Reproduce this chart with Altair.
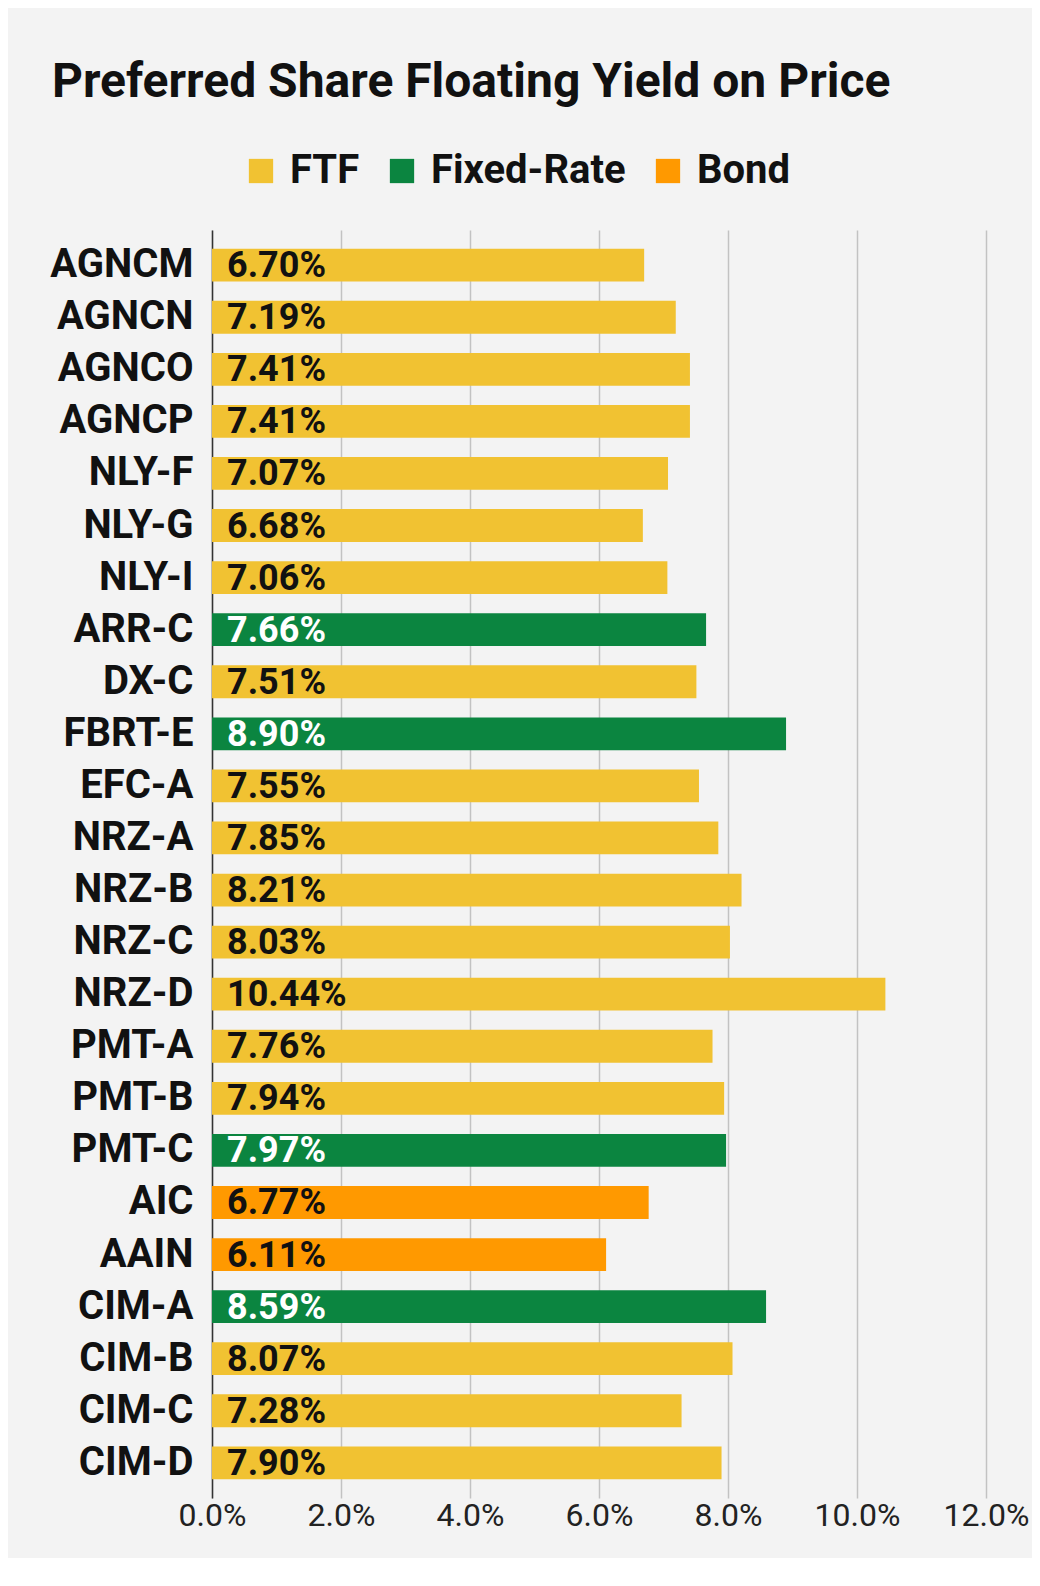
import altair as alt
import pandas as pd

tickers = ["AGNCM", "AGNCN", "AGNCO", "AGNCP", "NLY-F", "NLY-G", "NLY-I", "ARR-C",
           "DX-C", "FBRT-E", "EFC-A", "NRZ-A", "NRZ-B", "NRZ-C", "NRZ-D", "PMT-A",
           "PMT-B", "PMT-C", "AIC", "AAIN", "CIM-A", "CIM-B", "CIM-C", "CIM-D"]
yields = [6.70, 7.19, 7.41, 7.41, 7.07, 6.68, 7.06, 7.66,
          7.51, 8.90, 7.55, 7.85, 8.21, 8.03, 10.44, 7.76,
          7.94, 7.97, 6.77, 6.11, 8.59, 8.07, 7.28, 7.90]
types = ["FTF", "FTF", "FTF", "FTF", "FTF", "FTF", "FTF", "Fixed-Rate",
         "FTF", "Fixed-Rate", "FTF", "FTF", "FTF", "FTF", "FTF", "FTF",
         "FTF", "Fixed-Rate", "Bond", "Bond", "Fixed-Rate", "FTF", "FTF", "FTF"]
type_order = ["FTF", "Fixed-Rate", "Bond"]
type_colors = ["#F1C232", "#0B8540", "#FF9900"]
x_ticks = [0, 2, 4, 6, 8, 10, 12]

df = pd.DataFrame({"ticker": tickers, "yield": yields, "type": types})
df["label"] = [f"{v:.2f}%" for v in yields]
df["tcolor"] = ["#ffffff" if t == "Fixed-Rate" else "#111111" for t in types]

FONT = "Roboto"

base = alt.Chart(df).encode(
    y=alt.Y("ticker:N", sort=tickers, title=None,
            scale=alt.Scale(paddingInner=0.37, paddingOuter=0.36),
            axis=alt.Axis(labelFont=FONT, labelFontSize=40, labelFontWeight="bold",
                          labelColor="#111111", ticks=False, labelPadding=19,
                          domain=True, domainColor="#333333", domainWidth=1.5,
                          grid=False)),
)

bars = base.mark_bar().encode(
    x=alt.X("yield:Q", title=None,
            scale=alt.Scale(domain=[0, 12], nice=False),
            axis=alt.Axis(values=x_ticks, labelExpr="format(datum.value, '.1f') + '%'",
                          labelFont=FONT, labelFontSize=32, labelColor="#222222",
                          labelFlush=False, labelOverlap=False,
                          ticks=False, domain=False, grid=True, gridColor="#c2c2c2",
                          gridWidth=1.5, labelPadding=2)),
    color=alt.Color("type:N", scale=alt.Scale(domain=type_order, range=type_colors),
                    title=None,
                    legend=alt.Legend(orient="none", legendX=29, legendY=-79,
                                      direction="horizontal", symbolType="square",
                                      symbolSize=590, symbolStrokeWidth=0,
                                      labelFont=FONT, labelFontSize=40, labelLimit=0,
                                      labelFontWeight="bold", labelColor="#111111",
                                      labelOffset=9, columnPadding=22)),
)

labels = base.mark_text(align="left", baseline="middle", dx=15, dy=1, font=FONT,
                        fontSize=36, fontWeight="bold").encode(
    x=alt.datum(0),
    text="label:N",
    color=alt.Color("tcolor:N", scale=None, legend=None),
)

chart = (bars + labels).properties(
    width=774, height=1268,
    title=alt.TitleParams("Preferred Share Floating Yield on Price", anchor="start",
                          frame="group", dx=-160, offset=6, baseline="alphabetic",
                          font=FONT, fontSize=48, fontWeight="bold", color="#111111"),
    background="#f3f3f3",
    padding={"left": 204, "top": 222, "right": 46, "bottom": 60},
    autosize=alt.AutoSizeParams(type="none"),
).configure_view(stroke=None).resolve_scale(color="independent")

chart.save("out.html", embed_options={"renderer": "svg", "actions": False})
